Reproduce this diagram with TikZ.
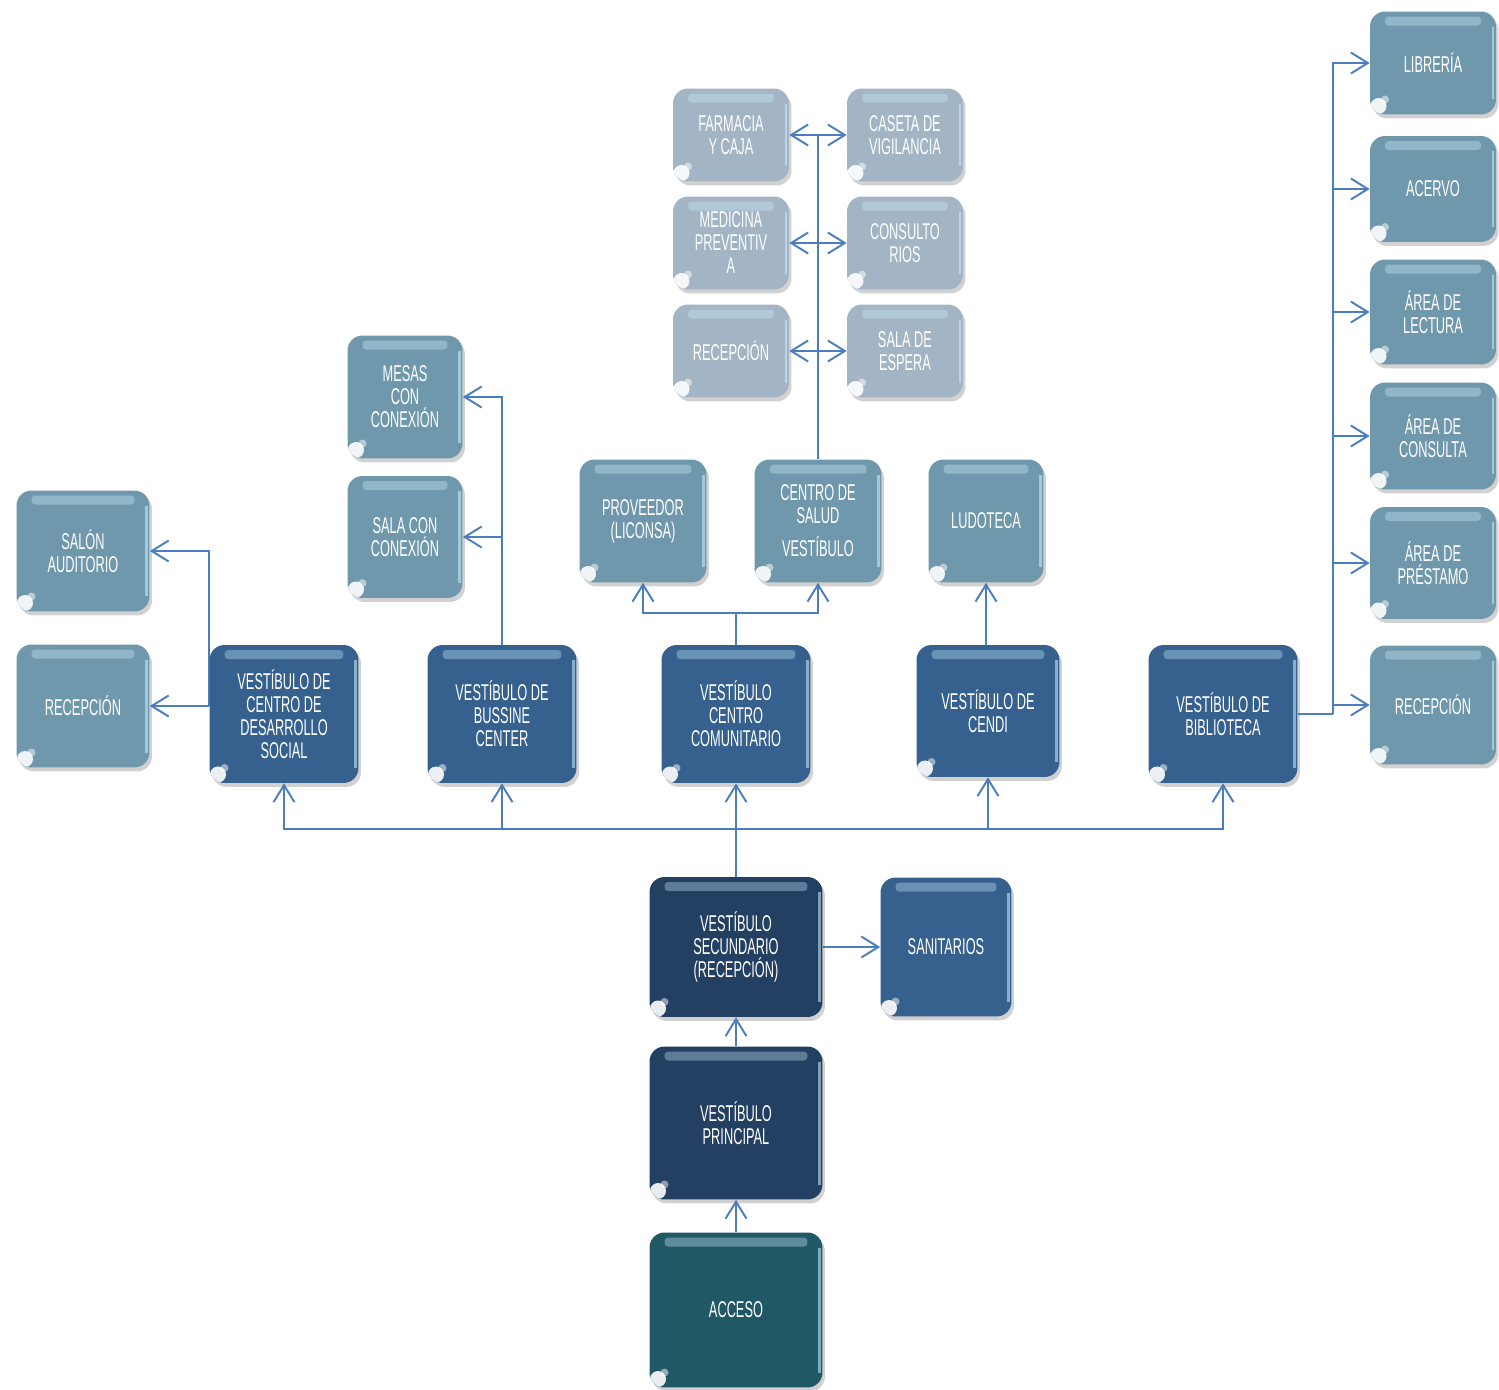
\documentclass[tikz,border=0pt]{standalone}
\usepackage{fontspec}
\setmainfont{Liberation Sans}[FakeStretch=0.56]
\usetikzlibrary{arrows.meta,positioning,calc,shadows,backgrounds}
\definecolor{LinkBlue}{RGB}{74,126,192}
\definecolor{SteelCS}{RGB}{112,152,172}
\definecolor{FogCS}{RGB}{163,180,196}
\definecolor{MidBlue}{RGB}{54,97,143}
\definecolor{NavyCS}{RGB}{35,63,98}
\definecolor{DeepTeal}{RGB}{33,88,102}
\definecolor{GlossCS}{RGB}{205,240,255}

\begin{document}
\begin{tikzpicture}[x=0.02cm,y=-0.02cm,
    >={Straight Barb[length=0.34cm,width=0.42cm]},
    box/.style={rounded corners=0.3cm,text=white,align=center,inner sep=2pt,
      font=\fontsize{13}{13.1}\selectfont,
      drop shadow={shadow xshift=0.05cm,shadow yshift=-0.08cm,opacity=0.3,fill=black!60},
      path picture={
        \fill[GlossCS,opacity=0.35,rounded corners=2pt]
          ($(path picture bounding box.north west)+(0.3cm,-0.1cm)$) rectangle
          ($(path picture bounding box.north east)+(-0.3cm,-0.28cm)$);
        \draw[GlossCS,opacity=0.55,line width=1.5pt]
          ($(path picture bounding box.north east)+(-0.06cm,-0.3cm)$) --
          ($(path picture bounding box.south east)+(-0.06cm,0.3cm)$);
        \fill[white,opacity=0.9]
          ($(path picture bounding box.south west)+(0.17cm,0.17cm)$) circle (0.16cm);
        \fill[white,opacity=0.5]
          ($(path picture bounding box.south west)+(0.3cm,0.3cm)$) circle (0.08cm);
      }},
    steelbox/.style={box,fill=SteelCS},
    fogbox/.style={box,fill=FogCS,minimum width=2.32cm,minimum height=1.86cm},
    bluebox/.style={box,fill=MidBlue},
    navybox/.style={box,fill=NavyCS,minimum width=3.46cm},
    flow/.style={->,line width=1.1pt,LinkBlue},
    dflow/.style={<->,line width=1.1pt,LinkBlue},
    link/.style={line width=1.1pt,LinkBlue}
  ]
  \useasboundingbox (0,0) rectangle (1499,1390);

  % entrada y vestibulos principales
  \node[box,fill=DeepTeal,minimum width=3.46cm,minimum height=3.1cm] (acc) at (736,1310) {ACCESO};
  \node[navybox,minimum height=3.06cm] (prin) at (736,1123) {VESTÍBULO\\PRINCIPAL};
  \node[navybox,minimum height=2.8cm] (sec) at (736,947) {VESTÍBULO\\SECUNDARIO\\(RECEPCIÓN)};
  \node[bluebox,minimum width=2.62cm,minimum height=2.78cm] (sani) at (946,947) {SANITARIOS};

  % vestibulos de cada zona
  \node[bluebox,minimum width=2.98cm,minimum height=2.76cm] (dsoc) at (284,714) {VESTÍBULO DE\\CENTRO DE\\DESARROLLO\\SOCIAL};
  \node[bluebox,minimum width=2.98cm,minimum height=2.76cm] (buss) at (502,714) {VESTÍBULO DE\\BUSSINE\\CENTER};
  \node[bluebox,minimum width=2.98cm,minimum height=2.76cm] (ccom) at (736,714) {VESTÍBULO\\CENTRO\\COMUNITARIO};
  \node[bluebox,minimum width=2.86cm,minimum height=2.64cm] (cendi) at (988,711) {VESTÍBULO DE\\CENDI};
  \node[bluebox,minimum width=2.98cm,minimum height=2.76cm] (bibl) at (1223,714) {VESTÍBULO DE\\BIBLIOTECA};

  % desarrollo social
  \node[steelbox,minimum width=2.66cm,minimum height=2.42cm] (salon) at (83,551) {SALÓN\\AUDITORIO};
  \node[steelbox,minimum width=2.66cm,minimum height=2.46cm] (recl) at (83,706) {RECEPCIÓN};

  % bussine center
  \node[steelbox,minimum width=2.3cm,minimum height=2.46cm] (mesas) at (405,397) {MESAS\\CON\\CONEXIÓN};
  \node[steelbox,minimum width=2.3cm,minimum height=2.44cm] (salac) at (405,537) {SALA CON\\CONEXIÓN};

  % centro comunitario y cendi
  \node[steelbox,minimum width=2.54cm,minimum height=2.46cm] (prov) at (643,521) {PROVEEDOR\\(LICONSA)};
  \node[steelbox,minimum width=2.54cm,minimum height=2.46cm] (salud) at (818,521) {CENTRO DE\\SALUD\\[0.2cm]VESTÍBULO};
  \node[steelbox,minimum width=2.3cm,minimum height=2.46cm] (ludo) at (986,521) {LUDOTECA};

  % centro de salud
  \node[fogbox] (farm) at (731,135) {FARMACIA\\Y CAJA};
  \node[fogbox] (case) at (905,135) {CASETA DE\\VIGILANCIA};
  \node[fogbox] (medi) at (731,243) {MEDICINA\\PREVENTIV\\A};
  \node[fogbox] (cons) at (905,243) {CONSULTO\\RIOS};
  \node[fogbox] (recs) at (731,351) {RECEPCIÓN};
  \node[fogbox] (sala) at (905,351) {SALA DE\\ESPERA};

  % biblioteca
  \node[steelbox,minimum width=2.52cm,minimum height=2.06cm] (lib) at (1433,63) {LIBRERÍA};
  \node[steelbox,minimum width=2.52cm,minimum height=2.12cm] (acer) at (1433,189) {ACERVO};
  \node[steelbox,minimum width=2.52cm,minimum height=2.1cm] (alec) at (1433,312) {ÁREA DE\\LECTURA};
  \node[steelbox,minimum width=2.52cm,minimum height=2.14cm] (acon) at (1433,436) {ÁREA DE\\CONSULTA};
  \node[steelbox,minimum width=2.52cm,minimum height=2.24cm] (apre) at (1433,563) {ÁREA DE\\PRÉSTAMO};
  \node[steelbox,minimum width=2.52cm,minimum height=2.38cm] (recb) at (1433,705) {RECEPCIÓN};

  \coordinate (bus) at (736,829);
  \coordinate (cbus) at (736,613);

  \begin{scope}[on background layer]
    \draw[flow] (acc) -- (prin);
    \draw[flow] (prin) -- (sec);
    \draw[flow] (sec.east |- sani.west) -- (sani.west);
    \draw[link] (sec.north) -- (bus);
    \foreach \n in {dsoc,buss,ccom,cendi,bibl}
      \draw[flow] (bus) -| (\n.south);
    % desarrollo social
    \draw[flow] (dsoc.west |- recl.east) -- (recl.east);
    \draw[flow] (dsoc.west |- recl.east) |- (salon.east);
    % bussine center
    \draw[flow] (buss.north) |- (mesas.east);
    \draw[flow] (buss.north) |- (salac.east);
    % centro comunitario
    \draw[link] (ccom.north) -- (cbus);
    \draw[flow] (cbus) -| (prov.south);
    \draw[flow] (cbus) -| (salud.south);
    \draw[flow] (ludo.south |- cendi.north) -- (ludo.south);
    % centro de salud
    \draw[link] (salud.north) -- (salud.north |- farm.east);
    \foreach \l/\r in {farm/case,medi/cons,recs/sala}
      \draw[dflow] (\l.east) -- (\r.west);
    % biblioteca
    \draw[link] (bibl.east) -- ++(35,0) coordinate (btrunk);
    \foreach \n in {lib,acer,alec,acon,apre,recb}
      \draw[flow] (btrunk) |- (\n.west);
  \end{scope}
\end{tikzpicture}
\end{document}
